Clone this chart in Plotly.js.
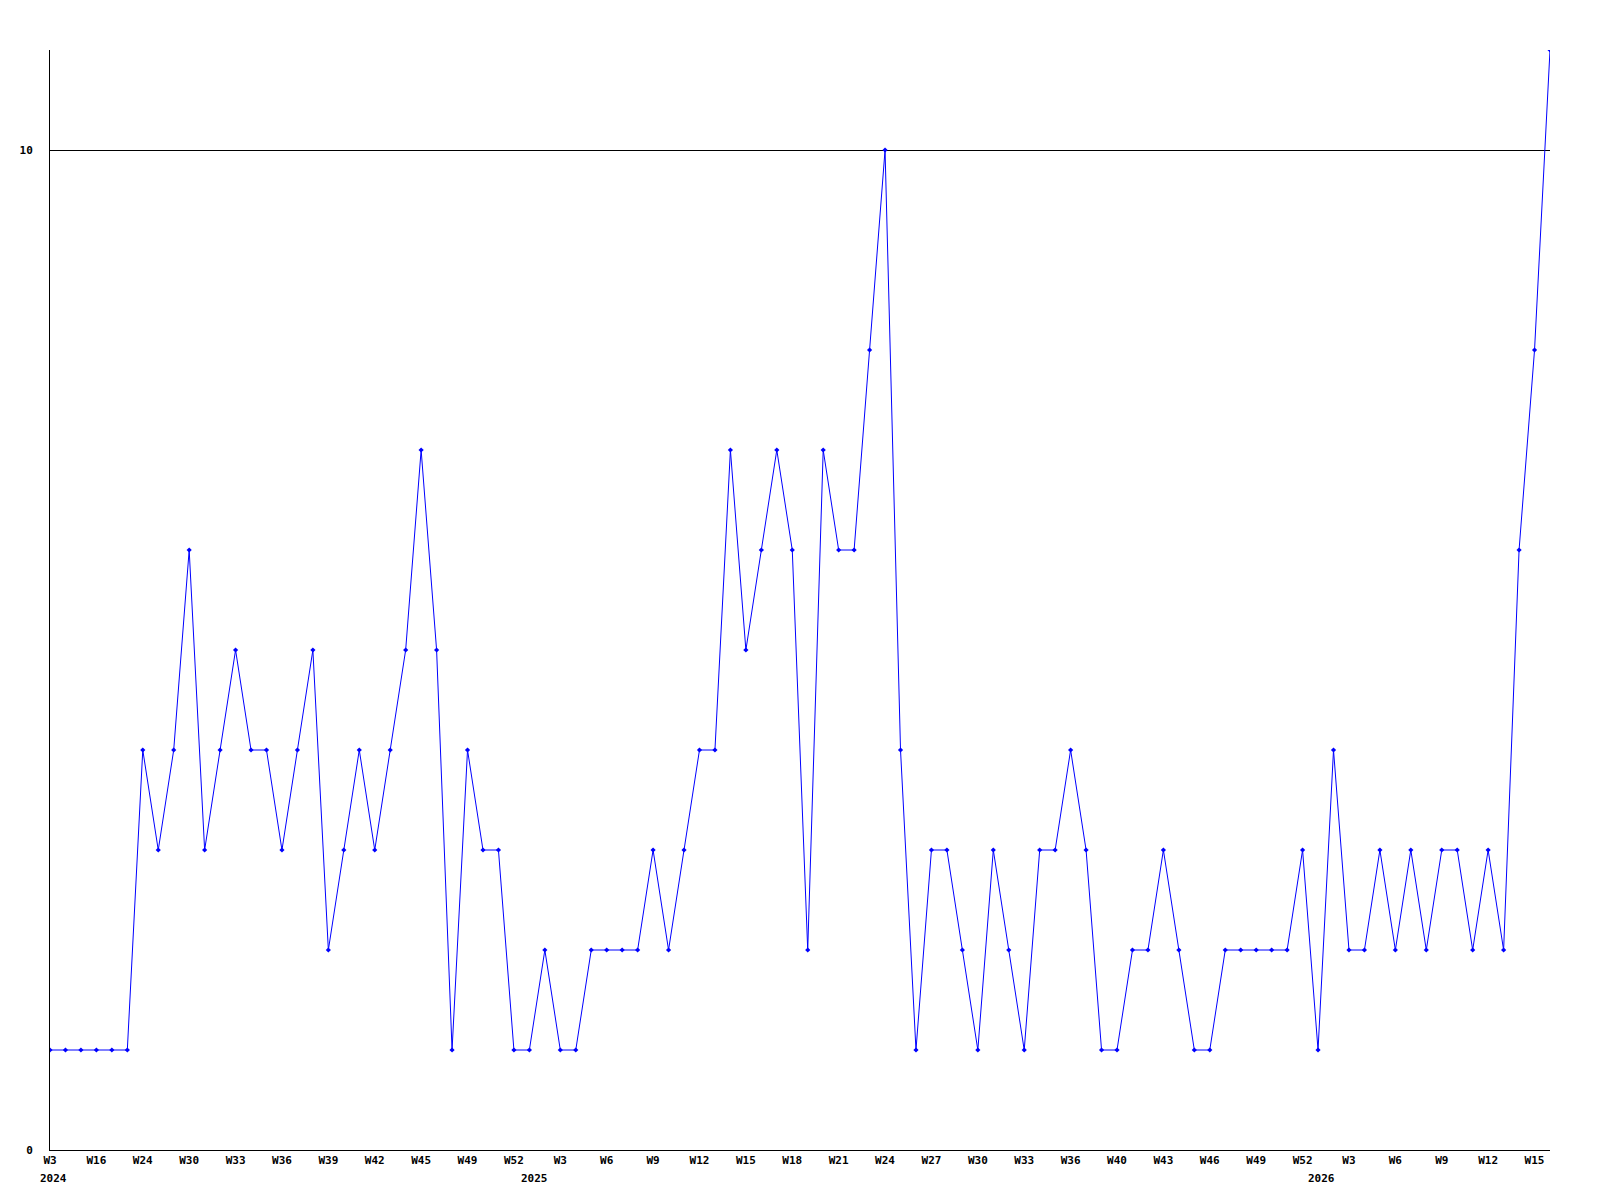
<!DOCTYPE html>
<html>
<head>
<meta charset="utf-8">
<script src="https://cdn.plot.ly/plotly-3.0.1.min.js"></script>
<style>
  html, body { margin: 0; padding: 0; background: #ffffff; }
  #chart { width: 1600px; height: 1200px; }
</style>
</head>
<body>
<div id="chart"></div>
<script>
// Weekly values, one per data point (in order)
const values = [
  1, 1, 1, 1, 1, 1, 4, 3, 4, 6,
  3, 4, 5, 4, 4, 3, 4, 5, 2, 3,
  4, 3, 4, 5, 7, 5, 1, 4, 3, 3,
  1, 1, 2, 1, 1, 2, 2, 2, 2, 3,
  2, 3, 4, 4, 7, 5, 6, 7, 6, 2,
  7, 6, 6, 8, 10, 4, 1, 3, 3, 2,
  1, 3, 2, 1, 3, 3, 4, 3, 1, 1,
  2, 2, 3, 2, 1, 1, 2, 2, 2, 2,
  2, 3, 1, 4, 2, 2, 3, 2, 3, 2,
  3, 3, 2, 3, 2, 6, 8, 11
];

// Tick labels shown every third point
const tickPositions = [0, 3, 6, 9, 12, 15, 18, 21, 24, 27, 30, 33, 36, 39, 42, 45, 48, 51, 54, 57, 60, 63, 66, 69, 72, 75, 78, 81, 84, 87, 90, 93, 96];
const tickLabels = ["W3", "W16", "W24", "W30", "W33", "W36", "W39", "W42", "W45", "W49", "W52",
                    "W3", "W6", "W9", "W12", "W15", "W18", "W21", "W24", "W27", "W30", "W33", "W36",
                    "W40", "W43", "W46", "W49", "W52",
                    "W3", "W6", "W9", "W12", "W15"];

// Year labels and where they sit along the point index axis
const yearLabels = ["2024", "2025", "2026"];
const yearPositions = [0.2, 31.3, 82.2];

const yTickVals = [0, 10];

const xIdx = values.map((_, i) => i);

const FONT = "'DejaVu Sans Mono', 'Liberation Mono', monospace";

const trace = {
  x: xIdx,
  y: values,
  type: 'scatter',
  mode: 'lines+markers',
  line: { color: '#0000ff', width: 1 },
  marker: { color: '#0000ff', size: 4, symbol: 'diamond' },
  cliponaxis: true,
  hoverinfo: 'skip'
};

const annotations = yearLabels.map((t, i) => ({
  text: '<b>' + t + '</b>',
  x: yearPositions[i],
  xref: 'x',
  y: 0,
  yref: 'paper',
  yanchor: 'top',
  xanchor: 'center',
  yshift: -20,
  showarrow: false,
  font: { family: FONT, size: 11, color: '#000000' }
}));

const layout = {
  width: 1600,
  height: 1200,
  margin: { l: 50, r: 50, t: 50, b: 50, pad: 0 },
  paper_bgcolor: '#ffffff',
  plot_bgcolor: '#ffffff',
  showlegend: false,
  xaxis: {
    range: [0, values.length - 1],
    tickmode: 'array',
    tickvals: tickPositions,
    ticktext: tickLabels.map(t => '<b>' + t + '</b>'),
    showgrid: false,
    zeroline: false,
    showline: true,
    linecolor: '#000000',
    linewidth: 1,
    ticks: '',
    tickfont: { family: FONT, size: 11, color: '#000000' },
    fixedrange: true
  },
  yaxis: {
    range: [0, 11],
    tickmode: 'array',
    tickvals: yTickVals,
    ticktext: yTickVals.map(v => '<b>' + v + '</b>'),
    showgrid: true,
    gridcolor: '#000000',
    gridwidth: 1,
    zeroline: false,
    showline: true,
    linecolor: '#000000',
    linewidth: 1,
    ticks: '',
    ticklabelstandoff: 14,
    tickfont: { family: FONT, size: 11, color: '#000000' },
    fixedrange: true
  },
  annotations: annotations
};

Plotly.newPlot('chart', [trace], layout, { staticPlot: true, displayModeBar: false });
</script>
</body>
</html>
